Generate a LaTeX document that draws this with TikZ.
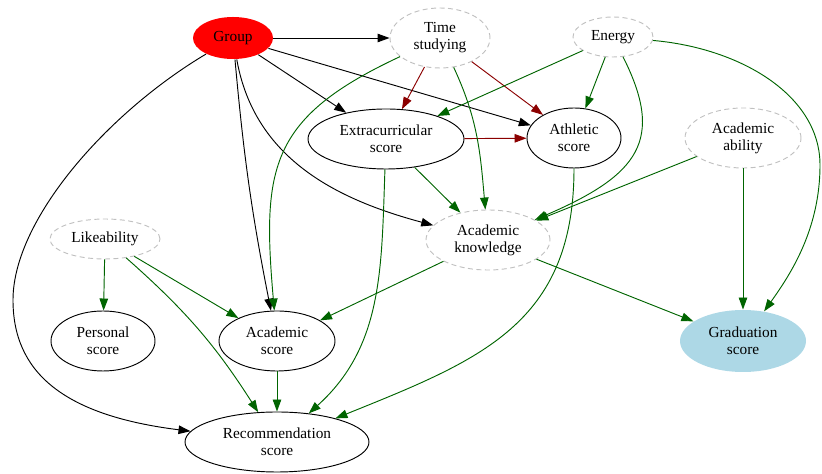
\documentclass[tikz,border=0pt]{standalone}
\usepackage{fontspec}
\setmainfont{Liberation Serif}
\usetikzlibrary{shapes.geometric,arrows.meta}
\definecolor{dkgreen}{HTML}{006400}
\definecolor{dkred}{HTML}{8B0000}
\definecolor{ltblue}{HTML}{ADD8E6}
\definecolor{hidgray}{HTML}{C0C0C0}
\begin{document}
\begin{tikzpicture}[x=.75pt,y=.75pt,line width=.7pt,
 every node/.style={ellipse,inner sep=0pt,align=center,font=\fontsize{11.5}{12.8}\selectfont},
 obs/.style={draw=black},
 latent/.style={draw=hidgray,dash pattern=on 3.75pt off 2.6pt},
 sz/.style 2 args={minimum width=#1*.75pt,minimum height=#2*.75pt},
 edge/.style={-{Triangle[length=9pt,width=6.4pt]}},
 bedge/.style={edge,black},
 redge/.style={edge,dkred},
 gedge/.style={edge,dkgreen}]
\useasboundingbox (0,0) rectangle (822,474);
\node[fill=red,sz={80}{42}] (group) at (233,436) {Group};
\node[latent,sz={100}{60}] (time) at (440,436) {Time\\studying};
\node[latent,sz={80}{40}] (energy) at (613,437) {Energy};
\node[obs,sz={156}{60}] (extra) at (386,335) {Extracurricular\\score};
\node[obs,sz={94}{60}] (athl) at (574,336) {Athletic\\score};
\node[latent,sz={116}{60}] (abil) at (743,336) {Academic\\ability};
\node[latent,sz={124}{60}] (know) at (488,234) {Academic\\knowledge};
\node[latent,sz={110}{40}] (like) at (105,235) {Likeability};
\node[obs,sz={104}{60}] (pers) at (103,133) {Personal\\score};
\node[obs,sz={116}{60}] (acad) at (277,133) {Academic\\score};
\node[obs,sz={184}{60}] (recom) at (277,32) {Recommendation\\score};
\node[fill=ltblue,sz={126}{62}] (grad) at (743,133) {Graduation\\score};
\draw[bedge] (group) -- (time);
\draw[bedge] (group) -- (extra);
\draw[bedge] (group) -- (athl);
\draw[bedge] (group) to[out=-80,in=165] (know);
\draw[bedge] (group) to[bend right=3] (acad);
\draw[bedge] (group) .. controls (107,361) and (13,254) .. (13,174)
 .. controls (13,104) and (60,59) .. (recom);
\draw[redge] (time) -- (extra);
\draw[redge] (time) -- (athl);
\draw[redge] (extra) -- (athl);
\draw[gedge] (time) to[out=-155,in=95,looseness=1.3] (acad);
\draw[gedge] (time) to[out=-65,in=95] (know);
\draw[gedge] (energy) -- (extra);
\draw[gedge] (energy) -- (athl);
\draw[gedge] (energy) .. controls (665,334) and (639,299) .. (know);
\draw[gedge] (energy) .. controls (740,426) and (820,379) .. (820,309)
 .. controls (820,244) and (790,199) .. (grad);
\draw[gedge] (extra) -- (know);
\draw[gedge] (extra) to[out=-92,in=42] (recom);
\draw[gedge] (athl) to[out=-90,in=22,looseness=1.15] (recom);
\draw[gedge] (abil) -- (know);
\draw[gedge] (abil) -- (grad);
\draw[gedge] (know) -- (acad);
\draw[gedge] (know) -- (grad);
\draw[gedge] (like) -- (pers);
\draw[gedge] (like) -- (acad);
\draw[gedge] (like) to[bend left=8] (recom);
\draw[gedge] (acad) -- (recom);
\end{tikzpicture}
\end{document}
